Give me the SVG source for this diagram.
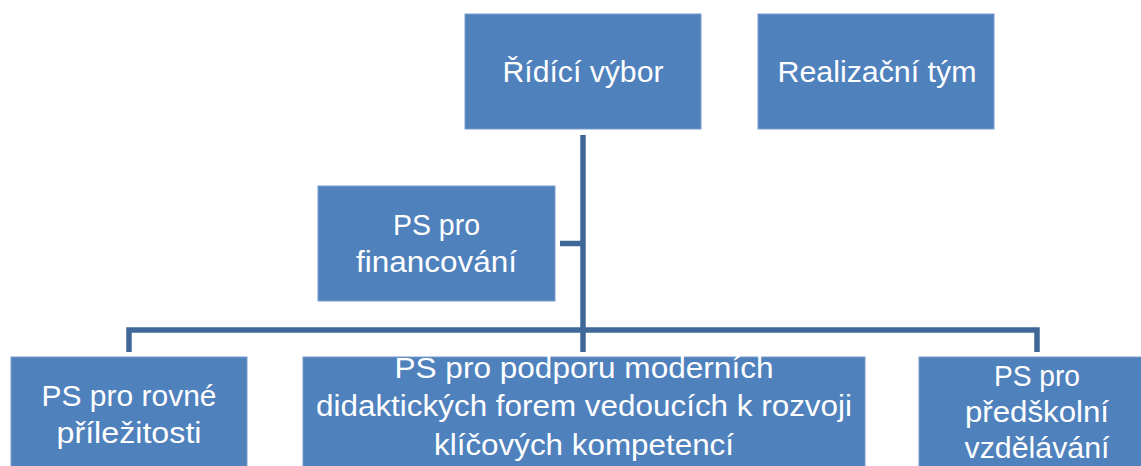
<svg xmlns="http://www.w3.org/2000/svg" width="1141" height="466" viewBox="0 0 1141 466">
<style>
.box{fill:#4F81BD;stroke:#7a9dcc;stroke-width:1}
.t{font-family:"Liberation Sans",Arial,sans-serif;font-size:30px;fill:#ffffff;text-anchor:middle}
.c{fill:none;stroke:#3F6898;stroke-width:5.5;stroke-linejoin:miter;stroke-linecap:butt}
</style>
<rect width="1141" height="466" fill="#ffffff"/>
<g id="connectors">
<path class="c" d="M583,135 V352"/>
<path class="c" d="M560,243.5 H583"/>
<path class="c" d="M129,352 V330 H1037 V352"/>
</g>
<g id="ridici-vybor">
<rect class="box" x="465" y="14" width="236" height="115"/>
<text class="t" x="583" y="82" textLength="161" lengthAdjust="spacingAndGlyphs">Řídící výbor</text>
</g>
<g id="realizacni-tym">
<rect class="box" x="758" y="14" width="236" height="115"/>
<text class="t" x="877" y="82" textLength="199" lengthAdjust="spacingAndGlyphs">Realizační tým</text>
</g>
<g id="ps-financovani">
<rect class="box" x="318" y="186" width="237" height="115"/>
<text class="t" x="436.5" y="235" textLength="87" lengthAdjust="spacingAndGlyphs">PS pro</text>
<text class="t" x="436.5" y="272" textLength="161" lengthAdjust="spacingAndGlyphs">financování</text>
</g>
<g id="ps-rovne-prilezitosti">
<rect class="box" x="11" y="357" width="236" height="115"/>
<text class="t" x="129" y="406" textLength="175" lengthAdjust="spacingAndGlyphs">PS pro rovné</text>
<text class="t" x="129" y="443" textLength="145" lengthAdjust="spacingAndGlyphs">příležitosti</text>
</g>
<g id="ps-podpora-didaktickych-forem">
<rect class="box" x="303" y="357" width="562" height="115"/>
<text class="t" x="584" y="378" textLength="379" lengthAdjust="spacingAndGlyphs">PS pro podporu moderních</text>
<text class="t" x="584" y="416" textLength="536" lengthAdjust="spacingAndGlyphs">didaktických forem vedoucích k rozvoji</text>
<text class="t" x="584" y="455" textLength="300" lengthAdjust="spacingAndGlyphs">klíčových kompetencí</text>
</g>
<g id="ps-predskolni-vzdelavani">
<rect class="box" x="919" y="357" width="236" height="115"/>
<text class="t" x="1037" y="386" textLength="86" lengthAdjust="spacingAndGlyphs">PS pro</text>
<text class="t" x="1037" y="422" textLength="144" lengthAdjust="spacingAndGlyphs">předškolní</text>
<text class="t" x="1037" y="458" textLength="145" lengthAdjust="spacingAndGlyphs">vzdělávání</text>
</g>
</svg>
